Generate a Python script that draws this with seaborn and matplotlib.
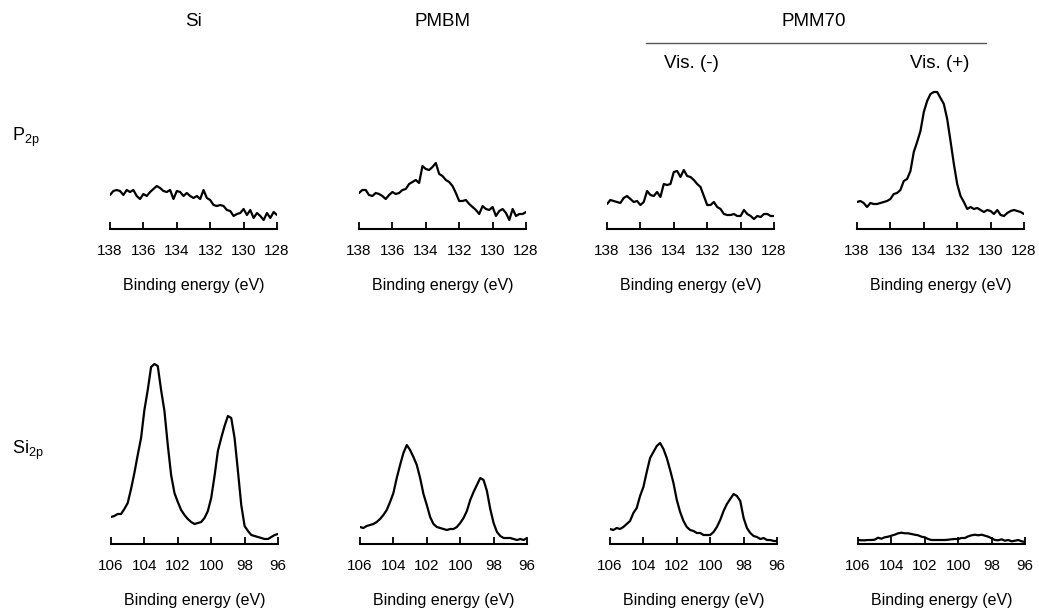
import numpy as np
import pandas as pd
import seaborn as sns
import matplotlib.pyplot as plt

# binding energy grids (0.2 eV steps, as recorded)
p2p_energy = np.round(np.linspace(138, 128, 51), 1)
si2p_energy = np.round(np.linspace(106, 96, 51), 1)

p2p_ticks = [138, 136, 134, 132, 130, 128]
si2p_ticks = [106, 104, 102, 100, 98, 96]

samples = ["Si", "PMBM", "Vis. (-)", "Vis. (+)"]

# P2p intensities (arb. units)
p2p_si = [34, 38, 39, 38, 34, 39, 37, 39, 33, 30, 35, 33, 37, 40, 43, 41, 38,
          37, 39, 30, 38, 37, 33, 36, 33, 31, 33, 30, 39, 31, 29, 24, 23, 24,
          23, 19, 18, 13, 15, 16, 20, 14, 19, 11, 16, 13, 9, 16, 11, 17, 14]
p2p_pmbm = [36, 39, 39, 34, 33, 36, 35, 33, 30, 34, 37, 35, 36, 39, 40, 45,
            47, 49, 46, 63, 60, 59, 62, 66, 55, 53, 49, 47, 43, 36, 28, 28,
            29, 25, 22, 19, 15, 23, 20, 19, 22, 13, 18, 20, 16, 9, 20, 13, 15,
            15, 17]
p2p_vis_off = [25, 29, 28, 27, 26, 31, 33, 30, 27, 28, 24, 27, 38, 34, 33, 37,
               32, 45, 44, 45, 57, 58, 52, 59, 53, 52, 49, 45, 42, 33, 24, 24,
               27, 22, 20, 15, 14, 14, 15, 13, 13, 19, 15, 13, 10, 13, 12, 15,
               15, 13, 13]
p2p_vis_on = [27, 28, 26, 22, 26, 25, 25, 26, 27, 28, 30, 35, 36, 39, 48, 50,
              58, 77, 87, 98, 117, 128, 135, 137, 137, 131, 125, 110, 88, 65,
              45, 33, 27, 20, 22, 20, 21, 19, 17, 19, 18, 15, 19, 14, 13, 16,
              18, 19, 18, 17, 15]

# Si2p intensities (arb. units)
si2p_si = [27, 28, 30, 30, 35, 41, 55, 71, 89, 106, 134, 154, 177, 180, 178,
           154, 133, 99, 69, 51, 42, 34, 29, 25, 22, 20, 21, 22, 26, 33, 46,
           68, 93, 106, 118, 128, 126, 106, 73, 39, 18, 13, 9, 8, 7, 6, 5, 5,
           7, 9, 10]
si2p_pmbm = [17, 16, 18, 19, 20, 22, 25, 29, 34, 42, 51, 66, 79, 91, 99, 94,
             87, 79, 66, 50, 39, 27, 20, 17, 16, 15, 14, 15, 15, 17, 21, 26,
             33, 44, 52, 59, 66, 64, 53, 35, 21, 12, 8, 6, 6, 6, 5, 4, 5, 4, 6]
si2p_vis_off = [15, 14, 16, 15, 17, 20, 23, 31, 36, 48, 57, 72, 86, 92, 98,
                101, 95, 86, 74, 61, 44, 32, 23, 17, 14, 13, 11, 11, 9, 9, 9,
                12, 17, 24, 33, 40, 45, 50, 48, 43, 26, 16, 11, 8, 7, 5, 6, 4,
                4, 3, 3]
si2p_vis_on = [4, 3.7, 3.7, 4, 4, 4.3, 6.3, 5.3, 6.7, 7.3, 8.3, 9.3, 10.7,
               11.3, 10.7, 10.7, 10, 9.3, 8.7, 7.3, 6.7, 5, 4, 4, 4, 4, 4, 4.3,
               4.7, 5, 5, 6, 6, 7.7, 8.7, 9.3, 8.7, 9.3, 8.3, 7.3, 5.7, 4, 3.7,
               4.7, 3.3, 4, 2.7, 3.3, 4, 2.7, 2]

sns.set_theme(style="white")
plt.rcParams['font.family'] = ['Liberation Sans', 'DejaVu Sans']
plt.rcParams['mathtext.fontset'] = 'custom'
plt.rcParams['mathtext.rm'] = 'Liberation Sans'
plt.rcParams['mathtext.it'] = 'Liberation Sans'
plt.rcParams['text.color'] = 'black'
plt.rcParams['axes.labelcolor'] = 'black'

W, H = 1039, 614
fig = plt.figure(figsize=(W / 100, H / 100), dpi=100)


def px_axes(left, bottom, width, height):
    """Axes from pixel coords (bottom = distance from top of image)."""
    return fig.add_axes([left / W, 1 - bottom / H, width / W, height / H])


def draw_panel(ax, energy, values, ticks, ymax):
    df = pd.DataFrame({"energy": energy, "intensity": values})
    sns.lineplot(data=df, x="energy", y="intensity", ax=ax, color="black",
                 linewidth=1.6)
    ax.set_xlim(ticks[0], ticks[-1])
    ax.set_ylim(0, ymax)
    ax.set_xticks(ticks)
    ax.set_xticklabels([str(t) for t in ticks])
    ax.set_yticks([])
    ax.set_ylabel("")
    ax.set_xlabel("Binding energy (eV)", fontsize=11.5, labelpad=14,
                  color="black")
    for side in ["left", "right", "top"]:
        ax.spines[side].set_visible(False)
    ax.spines["bottom"].set_color("black")
    ax.spines["bottom"].set_linewidth(1.5)
    ax.tick_params(axis="x", direction="in", length=5, width=1.3,
                   colors="black", labelsize=11, pad=11, bottom=True)
    ax.patch.set_alpha(0)


row1 = [p2p_si, p2p_pmbm, p2p_vis_off, p2p_vis_on]
row2 = [si2p_si, si2p_pmbm, si2p_vis_off, si2p_vis_on]
lefts1 = [110, 359, 607, 857]
lefts2 = [111, 360, 610, 858]

for left, vals in zip(lefts1, row1):
    ax = px_axes(left, 229, 167, 142)
    draw_panel(ax, p2p_energy, vals, p2p_ticks, 142)

for left, vals in zip(lefts2, row2):
    ax = px_axes(left, 544, 167, 186)
    draw_panel(ax, si2p_energy, vals, si2p_ticks, 186)

# column headers
hdr = dict(fontsize=13.5, ha="center", va="center", color="black")
fig.text(193 / W, 1 - 22 / H, samples[0], **hdr)
fig.text(442 / W, 1 - 22 / H, samples[1], **hdr)
fig.text(814 / W, 1 - 22 / H, "PMM70", **hdr)
fig.text(691 / W, 1 - 63 / H, samples[2], **hdr)
fig.text(940 / W, 1 - 63 / H, samples[3], **hdr)
fig.add_artist(plt.Line2D([646 / W, 986 / W], [1 - 43 / H, 1 - 43 / H],
                          color="#555555", linewidth=1.0))

# row labels
fig.text(12 / W, 1 - 137 / H, r"P$_{\mathrm{2p}}$", fontsize=13,
         ha="left", va="center", color="black")
fig.text(12 / W, 1 - 450 / H, r"Si$_{\mathrm{2p}}$", fontsize=13,
         ha="left", va="center", color="black")

fig.savefig("out.png", dpi=100)
